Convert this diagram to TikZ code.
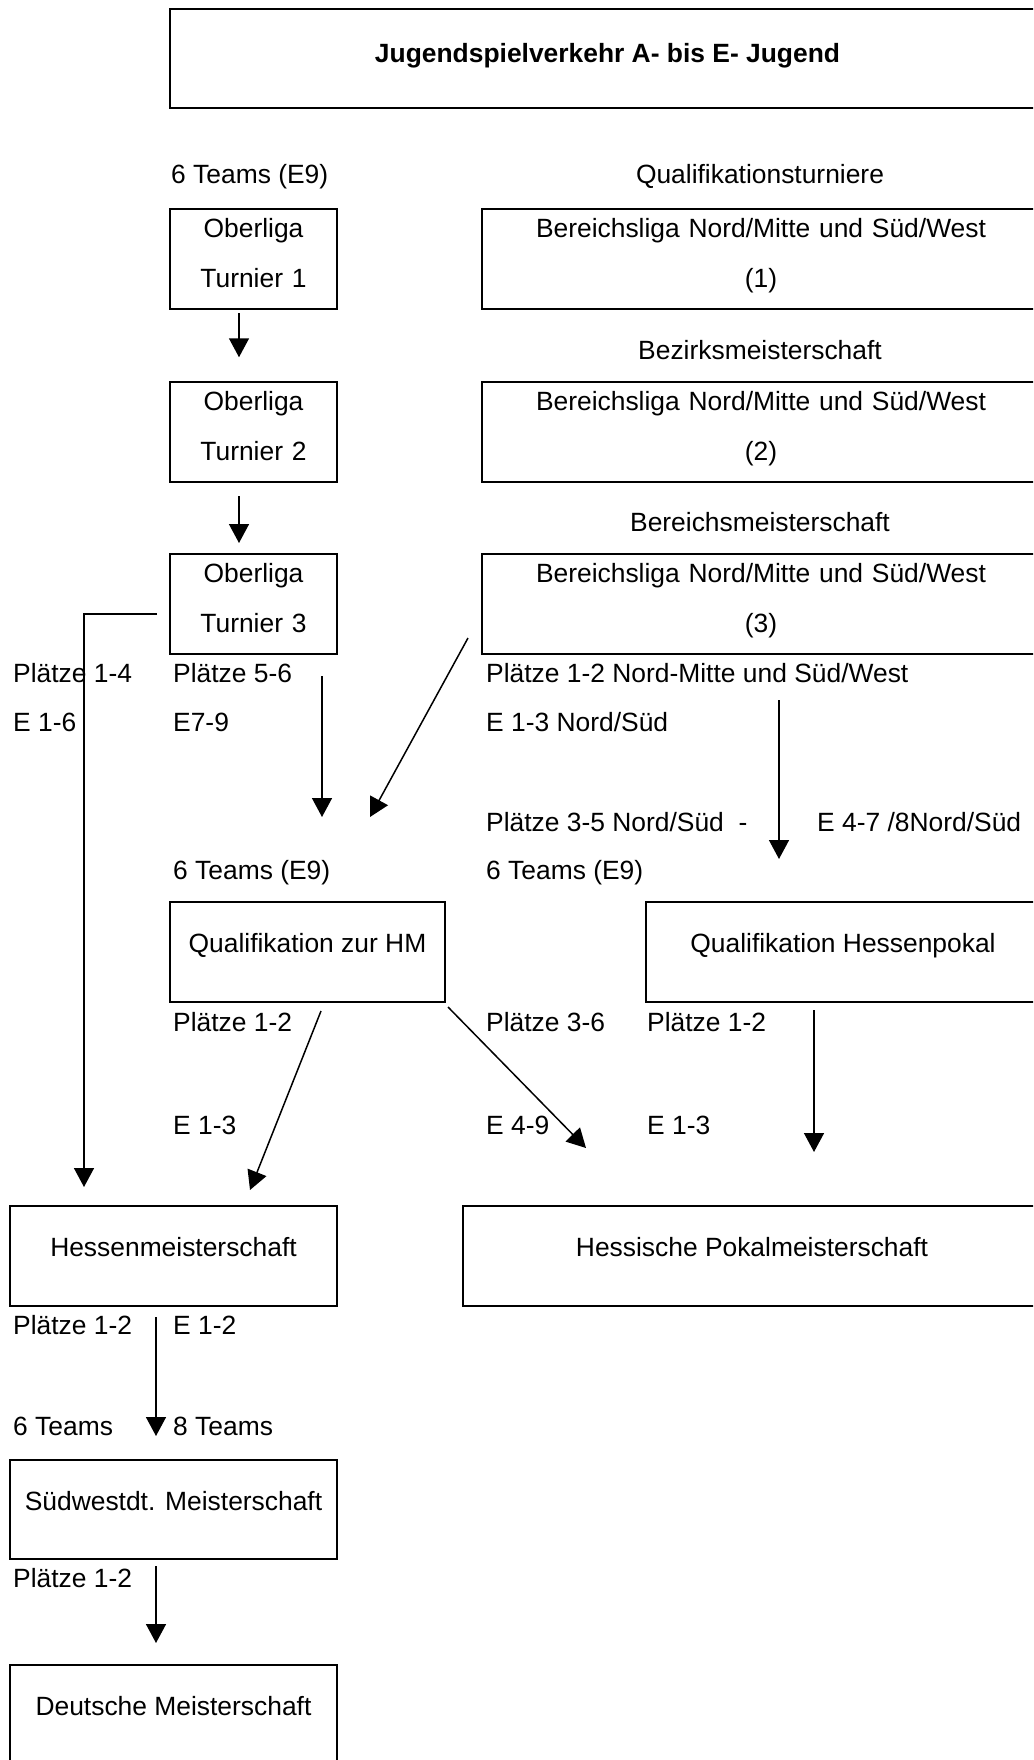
\documentclass[tikz,border=0pt]{standalone}
\usepackage{fontspec}
\setmainfont{Liberation Sans}
\usetikzlibrary{arrows.meta}
\begin{document}
\begin{tikzpicture}[x=1pt, y=1pt, node distance=172.25pt]
    % Styles
    \tikzstyle{box} = [rectangle, draw, line width=2pt, inner sep=0pt,
        font=\fontsize{26.4}{50}\selectfont, text height=19pt]
    \tikzstyle{onebox} = [box, text depth=18pt]
    \tikzstyle{twobox} = [box, align=center, text depth=62pt]
    \tikzstyle{lbl} = [anchor=west, inner sep=0pt, font=\fontsize{26.4}{30}\selectfont,
        text height=19pt, text depth=0pt]
    \tikzstyle{arrow} = [line width=1.5pt, -{Triangle[width=20pt,length=19pt]}]

    \useasboundingbox (0,0) rectangle (1033,-1760);
    \clip (0,0) rectangle (1033,-1760);

    % === TITLE ===
    \node [box, text depth=11pt, font=\fontsize{26.4}{30}\selectfont\bfseries,
        minimum width=875pt, minimum height=99pt] (title) at (607.5,-58.5)
        {Jugendspielverkehr A- bis E- Jugend};

    % === LEFT COLUMN: Oberliga ===
    \node [twobox, text width=160pt, minimum width=167pt, minimum height=100pt] (ober1) at (253.5,-259.5)
        {Oberliga\\Turnier 1};
    \node [twobox, text width=160pt, minimum width=167pt, minimum height=100pt, below of=ober1] (ober2)
        {Oberliga\\Turnier 2};
    \node [twobox, text width=160pt, minimum width=167pt, minimum height=100pt, below of=ober2] (ober3)
        {Oberliga\\Turnier 3};

    % === RIGHT COLUMN: Bereichsliga ===
    \node [twobox, text width=540pt, minimum width=558pt, minimum height=100pt] (bereich1) at (761,-259.5)
        {Bereichsliga Nord/Mitte und Süd/West\\(1)};
    \node [twobox, text width=540pt, minimum width=558pt, minimum height=100pt, below of=bereich1] (bereich2)
        {Bereichsliga Nord/Mitte und Süd/West\\(2)};
    \node [twobox, text width=540pt, minimum width=558pt, minimum height=100pt, below of=bereich2] (bereich3)
        {Bereichsliga Nord/Mitte und Süd/West\\(3)};

    % === Qualification and finals ===
    \node [onebox, minimum width=275pt, minimum height=100pt] (qualhm) at (307.5,-952) {Qualifikation zur HM};
    \node [onebox, minimum width=394pt, minimum height=100pt] (qualpokal) at (843,-952) {Qualifikation Hessenpokal};
    \node [onebox, minimum width=327pt, minimum height=100pt] (hessen) at (173.5,-1256) {Hessenmeisterschaft};
    \node [onebox, minimum width=578pt, minimum height=100pt] (pokal) at (752,-1256) {Hessische Pokalmeisterschaft};
    \node [onebox, minimum width=327pt, minimum height=99pt] (suedwest) at (173.5,-1509.5) {Südwestdt. Meisterschaft};
    \node [onebox, minimum width=327pt, minimum height=100pt] (deutsche) at (173.5,-1715) {Deutsche Meisterschaft};

    % === Headings ===
    \node [lbl] (teamsobl) at (171,-174) {6 Teams (E9)};
    \node [anchor=center, inner sep=0pt, font=\fontsize{26.4}{30}\selectfont, text height=19pt, text depth=0pt]
        (qualturn) at (760,-174) {Qualifikationsturniere};
    \node [anchor=center, inner sep=0pt, font=\fontsize{26.4}{30}\selectfont, text height=19pt, text depth=0pt]
        (bezirk) at (760,-350) {Bezirksmeisterschaft};
    \node [anchor=center, inner sep=0pt, font=\fontsize{26.4}{30}\selectfont, text height=19pt, text depth=0pt]
        (bereichm) at (760,-522) {Bereichsmeisterschaft};

    % === Labels ===
    \node [lbl] (pl14) at (13,-673) {Plätze 1-4};
    \node [lbl] (e16) at (13,-722) {E 1-6};
    \node [lbl] (pl56) at (173,-673) {Plätze 5-6};
    \node [lbl] (e79) at (173,-722) {E7-9};
    \node [lbl] (pl12nm) at (486,-673) {Plätze 1-2 Nord-Mitte und Süd/West};
    \node [lbl] (e13ns) at (486,-722) {E 1-3 Nord/Süd};
    \node [lbl] (pl35ns) at (486,-822) {Plätze 3-5 Nord/Süd\ \ -};
    \node [lbl] (e47ns) at (817,-822) {E 4-7 /8Nord/Süd};
    \node [lbl] (teamshm) at (173,-870) {6 Teams (E9)};
    \node [lbl] (teamspk) at (486,-870) {6 Teams (E9)};
    \node [lbl] (pl12hm) at (173,-1022) {Plätze 1-2};
    \node [lbl] (pl36hm) at (486,-1022) {Plätze 3-6};
    \node [lbl] (pl12pk) at (647,-1022) {Plätze 1-2};
    \node [lbl] (e13hm) at (173,-1125) {E 1-3};
    \node [lbl] (e49hm) at (486,-1125) {E 4-9};
    \node [lbl] (e13pk) at (647,-1125) {E 1-3};
    \node [lbl] (pl12he) at (13,-1325) {Plätze 1-2};
    \node [lbl] (e12he) at (173,-1325) {E 1-2};
    \node [lbl] (teamssw) at (13,-1426) {6 Teams};
    \node [lbl] (teamsswe) at (173,-1426) {8 Teams};
    \node [lbl] (pl12sw) at (13,-1578) {Plätze 1-2};

    % === ARROWS ===
    \draw [arrow] ([xshift=-14.5pt,yshift=-3pt]ober1.south) -- ([xshift=-14.5pt,yshift=23.5pt]ober2.north);
    \draw [arrow] ([xshift=-14.5pt,yshift=-13.5pt]ober2.south) -- ([xshift=-14.5pt,yshift=10pt]ober3.north);
    \draw [arrow] ([xshift=-12pt,yshift=-10pt]ober3.west) -| ([xshift=75pt,yshift=18pt]hessen.north west);
    \draw [arrow] ([xshift=68.5pt,yshift=-21pt]ober3.south) -- ([xshift=14.5pt,yshift=84pt]qualhm.north);
    \draw [arrow] ([xshift=-13pt,yshift=17pt]bereich3.south west) -- ([xshift=62.5pt,yshift=84pt]qualhm.north);
    \draw [arrow] ([xshift=18pt,yshift=-45pt]bereich3.south) -- ([xshift=-64pt,yshift=42pt]qualpokal.north);
    \draw [arrow] ([xshift=13.5pt,yshift=-8pt]qualhm.south) -- ([xshift=76.5pt,yshift=15pt]hessen.north);
    \draw [arrow] ([xshift=2pt,yshift=-4pt]qualhm.south east) -- ([xshift=124pt,yshift=57pt]pokal.north west);
    \draw [arrow] ([xshift=-29pt,yshift=-7pt]qualpokal.south) -- ([xshift=62pt,yshift=53pt]pokal.north);
    \draw [arrow] ([xshift=-17.5pt,yshift=-10pt]hessen.south) -- ([xshift=-17.5pt,yshift=23pt]suedwest.north);
    \draw [arrow] ([xshift=-17.5pt,yshift=-6pt]suedwest.south) -- ([xshift=-17.5pt,yshift=21pt]deutsche.north);
\end{tikzpicture}
\end{document}
